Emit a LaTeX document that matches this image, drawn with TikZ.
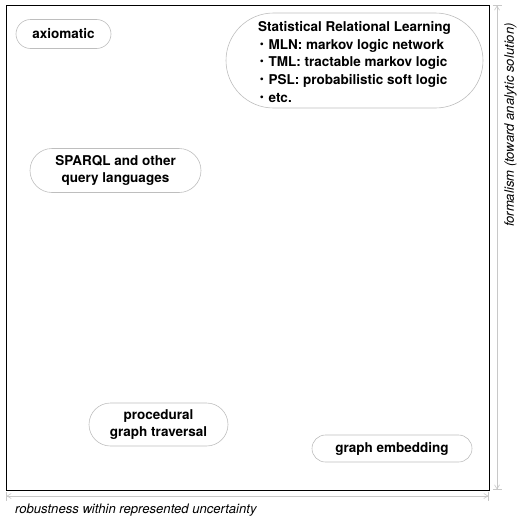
\documentclass[tikz,border=0pt]{standalone}
\usepackage{xcolor}
\usepackage{fontspec}
\setmainfont{TeX Gyre Heros}
\newfontfamily\cjk{Noto Sans CJK JP}
\usetikzlibrary{shapes.misc,arrows.meta}

\definecolor{pillgray}{RGB}{190,190,190}
\definecolor{dimgray}{RGB}{200,200,200}

\begin{document}
\begin{tikzpicture}[x=1pt,y=1pt,yscale=-1,xscale=1,
  pill/.style={draw=pillgray,line width=0.6pt,rounded rectangle,inner sep=0pt,
    align=center,font=\fontsize{13.5}{16.5}\selectfont\bfseries},
  dimline/.style={draw=dimgray,line width=0.6pt,
    {Bar[width=9pt]Straight Barb[length=4pt,width=5pt]}-{Straight Barb[length=4pt,width=5pt]Bar[width=9pt]}},
  axislabel/.style={inner sep=0pt,font=\fontsize{13.1}{15}\selectfont\itshape}]
\path (0,0) rectangle (525,525); %picture size

%Shape: Frame
\draw [line width=0.8pt] (6,5) rectangle (489,490) ;

% Axis dimension lines
\coordinate (xl) at (6,496) ;
\coordinate (xr) at (489,496) ;
\coordinate (yt) at (497,5) ;
\coordinate (yb) at (497,490) ;
\draw [dimline] (xl) -- (xr) ;
\draw [dimline] (yb) -- (yt) ;

% Text Node
\node (xlab) [axislabel,anchor=west] at (15,510) {robustness within represented uncertainty};
% Text Node
\node (ylab) [axislabel,rotate=90] at (510.5,125) {formalism (toward analytic solution)};

% Pill Node
\node (axiom) [pill,minimum width=95pt,minimum height=29pt] at (63.5,34) {axiomatic};
% Pill Node
\node (srl) [pill,minimum width=257pt,minimum height=95pt] at (354.5,60.5) {};
\node (srltext) [inner sep=0pt,align=left,font=\fontsize{13.5}{17.6}\selectfont\bfseries] at (353,62)
  {\hspace{3pt}Statistical Relational Learning\\
   {\cjk\mdseries ・}MLN: markov logic network\\
   {\cjk\mdseries ・}TML: tractable markov logic\\
   {\cjk\mdseries ・}PSL: probabilistic soft logic\\
   {\cjk\mdseries ・}etc.};
% Pill Node
\node (sparql) [pill,minimum width=171pt,minimum height=44pt] at (115.5,170.5) {SPARQL and other\\query languages};
% Pill Node
\node (proc) [pill,minimum width=139pt,minimum height=43pt] at (158.5,424.5) {procedural\\graph traversal};
% Pill Node
\node (embed) [pill,minimum width=160pt,minimum height=27pt] at (392,448.5) {graph embedding};

\end{tikzpicture}
\end{document}
